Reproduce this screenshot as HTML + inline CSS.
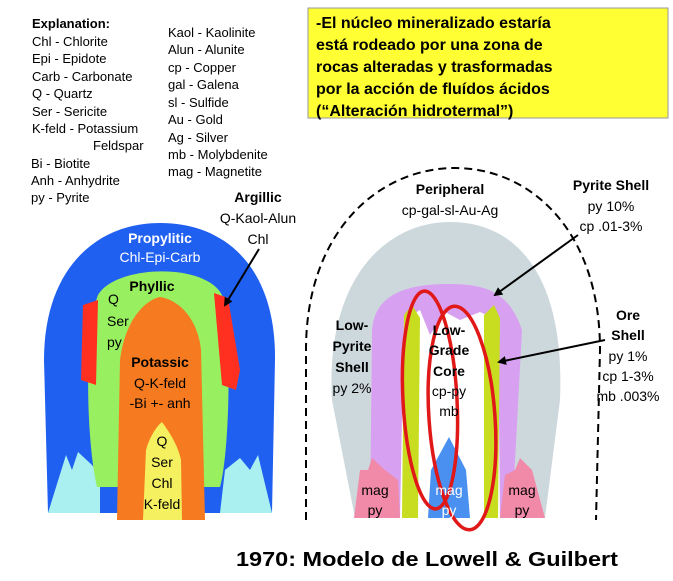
<!DOCTYPE html>
<html><head><meta charset="utf-8"><style>
body{margin:0;background:#fff;width:673px;height:576px;overflow:hidden}
svg text{font-family:"Liberation Sans",Arial,sans-serif}
</style></head><body>
<svg width="673" height="576" viewBox="0 0 673 576" xmlns="http://www.w3.org/2000/svg">
<defs><marker id="ah" markerWidth="9" markerHeight="9" refX="7" refY="4.5" orient="auto" markerUnits="userSpaceOnUse"><path d="M0,0 L9,4.5 L0,9 z" fill="#000"/></marker></defs>
<g font-size="13" fill="#000">
<text x="32" y="28" font-weight="bold">Explanation:</text>
<text x="32" y="46">Chl - Chlorite</text>
<text x="32" y="63">Epi - Epidote</text>
<text x="32" y="81">Carb - Carbonate</text>
<text x="32" y="98">Q - Quartz</text>
<text x="32" y="116">Ser - Sericite</text>
<text x="32" y="133">K-feld - Potassium</text>
<text x="93" y="150">Feldspar</text>
<text x="31" y="168">Bi - Biotite</text>
<text x="31" y="185">Anh - Anhydrite</text>
<text x="31" y="202">py - Pyrite</text>
<text x="168" y="37">Kaol - Kaolinite</text>
<text x="168" y="54">Alun - Alunite</text>
<text x="168" y="72">cp - Copper</text>
<text x="168" y="89">gal - Galena</text>
<text x="168" y="107">sl - Sulfide</text>
<text x="168" y="124">Au - Gold</text>
<text x="168" y="142">Ag - Silver</text>
<text x="168" y="159">mb - Molybdenite</text>
<text x="168" y="176">mag - Magnetite</text>
</g>
<rect x="308" y="8" width="360" height="110" fill="#ffff33" stroke="#999" stroke-width="1"/>
<g font-size="16" font-weight="bold" fill="#000">
<text x="316" y="28">-El núcleo mineralizado estaría</text>
<text x="316" y="50">está rodeado por una zona de</text>
<text x="316" y="72">rocas alteradas y trasformadas</text>
<text x="316" y="94">por la acción de fluídos ácidos</text>
<text x="316" y="116">(“Alteración hidrotermal”)</text>
</g>
<!-- left diagram -->
<path d="M48,513 L44,360 C44,270 95,223 160,223 C228,223 276,270 275,360 L272,513 Z" fill="#2060f0"/>
<path d="M48,513 L66,455 L72,470 L78,452 L92,465 L100,475 L100,513 Z" fill="#aaf0f0"/>
<path d="M272,513 L258,455 L250,470 L240,458 L225,470 L220,513 Z" fill="#aaf0f0"/>
<path d="M97,487 C86,440 84,330 98,295 C115,265 205,262 222,295 C232,330 230,450 220,487 Z" fill="#98f060"/>
<path d="M81,380 L83,305 L98,300 L96,385 Z" fill="#ff3020"/>
<path d="M214,293 L228,298 L240,370 L236,390 L222,385 Z" fill="#ff3020"/>
<path d="M117,520 L120,360 C125,320 145,300 160,297 C180,300 198,320 201,350 L205,520 Z" fill="#f57a20"/>
<path d="M143,520 L146,450 C150,435 158,425 162,422 C168,430 178,445 181,460 L182,520 Z" fill="#f5f060"/>
<g font-size="14" text-anchor="middle">
<text x="160" y="243" fill="#fff" font-weight="bold">Propylitic</text>
<text x="160" y="262" fill="#fff">Chl-Epi-Carb</text>
<text x="152" y="291" font-weight="bold">Phyllic</text>
<text x="108" y="304" text-anchor="start">Q</text>
<text x="107" y="326" text-anchor="start">Ser</text>
<text x="107" y="347" text-anchor="start">py</text>
<text x="160" y="367" font-weight="bold">Potassic</text>
<text x="160" y="388">Q-K-feld</text>
<text x="160" y="408">-Bi +- anh</text>
<text x="162" y="446">Q</text>
<text x="162" y="467">Ser</text>
<text x="162" y="488">Chl</text>
<text x="162" y="509">K-feld</text>
<text x="258" y="202" font-weight="bold">Argillic</text>
<text x="258" y="223">Q-Kaol-Alun</text>
<text x="258" y="244">Chl</text>
</g>
<line x1="259" y1="249" x2="225" y2="305" stroke="#000" stroke-width="2" marker-end="url(#ah)"/>
<!-- right diagram -->
<path d="M306,520 L306,350 C306,230 380,168 455,168 C530,168 600,230 600,350 L596,520" fill="none" stroke="#000" stroke-width="2" stroke-dasharray="8,5"/>
<path d="M355,518 L332,400 C325,280 385,222 450,222 C520,222 565,280 560,400 L545,518 Z" fill="#cdd8dd"/>
<path d="M370,518 L372,330 C375,292 410,284 450,284 C490,284 510,295 522,330 L512,518 Z" fill="#d8a0f0"/>
<path d="M400,518 L404,320 L420,310 L430,335 L445,312 L460,320 L480,312 L498,320 L500,518 Z" fill="#ffffff"/>
<path d="M402,518 L404,315 L412,305 L420,318 L418,518 Z" fill="#c8dc20"/>
<path d="M484,518 L484,315 L494,305 L500,318 L498,518 Z" fill="#c8dc20"/>
<path d="M428,518 L431,470 L449,437 L466,470 L470,518 Z" fill="#4a90f0"/>
<path d="M354,518 L360,470 L368,470 L372,458 L385,470 L398,480 L400,518 Z" fill="#f08aa8"/>
<path d="M500,518 L505,475 L515,470 L520,458 L532,470 L545,518 Z" fill="#f08aa8"/>
<ellipse cx="430" cy="400" rx="27" ry="109" fill="none" stroke="#e01818" stroke-width="3.5" transform="rotate(-3 430 400)"/>
<ellipse cx="462" cy="418" rx="33" ry="112" fill="none" stroke="#e01818" stroke-width="3.5" transform="rotate(-4 462 418)"/>
<g font-size="14" text-anchor="middle">
<text x="450" y="194" font-weight="bold">Peripheral</text>
<text x="450" y="215">cp-gal-sl-Au-Ag</text>
<text x="611" y="190" font-weight="bold">Pyrite Shell</text>
<text x="611" y="211">py 10%</text>
<text x="611" y="231">cp .01-3%</text>
<text x="628" y="320" font-weight="bold">Ore</text>
<text x="628" y="340" font-weight="bold">Shell</text>
<text x="628" y="361">py 1%</text>
<text x="628" y="381">cp 1-3%</text>
<text x="628" y="401">mb .003%</text>
<text x="352" y="330" font-weight="bold">Low-</text>
<text x="352" y="351" font-weight="bold">Pyrite</text>
<text x="352" y="372" font-weight="bold">Shell</text>
<text x="352" y="393">py 2%</text>
<text x="449" y="335" font-weight="bold">Low-</text>
<text x="449" y="355" font-weight="bold">Grade</text>
<text x="449" y="376" font-weight="bold">Core</text>
<text x="449" y="396">cp-py</text>
<text x="449" y="416">mb</text>
<text x="375" y="495">mag</text>
<text x="375" y="515">py</text>
<text x="449" y="495" fill="#fff">mag</text>
<text x="449" y="515" fill="#fff">py</text>
<text x="522" y="495">mag</text>
<text x="522" y="515">py</text>
</g>
<line x1="578" y1="235" x2="495" y2="295" stroke="#000" stroke-width="2" marker-end="url(#ah)"/>
<line x1="605" y1="340" x2="499" y2="362" stroke="#000" stroke-width="2" marker-end="url(#ah)"/>
<text x="236" y="566" font-size="20" font-weight="bold" textLength="382" lengthAdjust="spacingAndGlyphs">1970: Modelo de Lowell &amp; Guilbert</text>
</svg>
</body></html>
